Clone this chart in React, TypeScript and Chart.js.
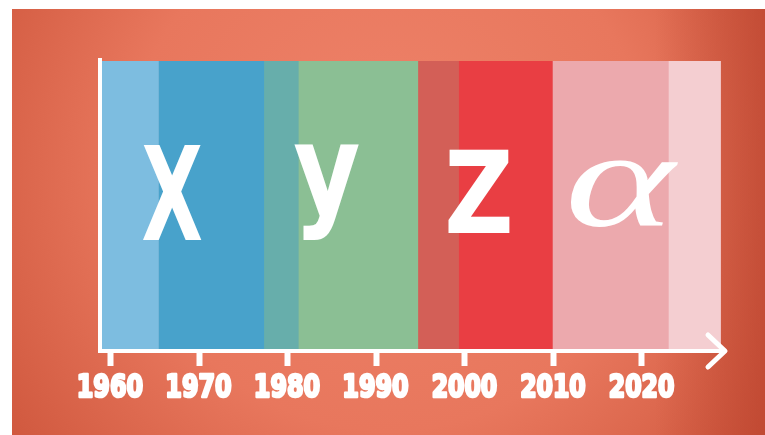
import React, { useEffect, useRef } from "react";
import { Chart, registerables } from "chart.js";

Chart.register(...registerables);

// ---- data ----
const bandNames = [
  "Boomer / X cusp",
  "Gen X",
  "Xennials",
  "Gen Y",
  "Zillennials",
  "Gen Z",
  "Gen Alpha",
  "Alpha / Beta cusp",
];
const bandStarts = [1958.8, 1965.4, 1977.3, 1981.2, 1994.7, 1999.3, 2009.9, 2023.0];
const bandEnds = [1965.4, 1977.3, 1981.2, 1994.7, 1999.3, 2009.9, 2023.0, 2028.9];
const bandColors = [
  "#7dbde0",
  "#48a2cb",
  "#67aeab",
  "#8bbf94",
  "#d35f57",
  "#e93e43",
  "#eca9ad",
  "#f4ced1",
];
const tickYears = [1960, 1970, 1980, 1990, 2000, 2010, 2020];
const letterTexts = ["X", "y", "Z", "α"];
const letterYears = [1967.0, 1984.4, 2001.6, 2018.0];
const axisMin = 1958.8;
const axisMax = 2029.4;

// ---- styles ----
const condensedBold = "bold 120px 'DejaVu Sans Condensed', 'DejaVu Sans', sans-serif";
const letterStyles = [
  { font: condensedBold, w: 59, h: 95, fy: 0.453 },
  { font: condensedBold, w: 65, h: 95, fy: 0.453 },
  { font: condensedBold, w: 62, h: 83, fy: 0.45 },
  { font: "italic 120px 'Liberation Serif', 'DejaVu Serif', serif", w: 108, h: 67, fy: 0.457 },
];
const tickLabelStyle = {
  font: "bold 34px 'DejaVu Sans Condensed', 'DejaVu Sans', sans-serif",
  width: 63,
  capHeight: 23,
  gap: 23, // distance from axis line to top of the digits
  thicken: 2.2,
};

const W = 753;
const H = 426;

const backgroundPlugin = {
  id: "bgPaint",
  beforeDraw(chart: any) {
    const { ctx, width, height } = chart;
    ctx.save();
    const g = ctx.createRadialGradient(width * 0.5, height * 0.35, 10, width * 0.5, height * 0.4, width * 0.62);
    g.addColorStop(0, "#ee8269");
    g.addColorStop(0.55, "#e8775d");
    g.addColorStop(1, "#cf573d");
    ctx.fillStyle = g;
    ctx.fillRect(0, 0, width, height);
    const g2 = ctx.createLinearGradient(width - 110, 0, width, 0);
    g2.addColorStop(0, "rgba(180,60,40,0)");
    g2.addColorStop(1, "rgba(180,60,40,0.55)");
    ctx.fillStyle = g2;
    ctx.fillRect(width - 110, 0, 110, height);
    ctx.restore();
  },
};

const decorPlugin = {
  id: "decor",
  afterDraw(chart: any) {
    const { ctx, chartArea } = chart;
    const x = chart.scales.x;
    ctx.save();
    // big letters
    letterTexts.forEach((t, i) => {
      const st = letterStyles[i];
      ctx.save();
      ctx.font = st.font;
      const m = ctx.measureText(t);
      const bw = m.actualBoundingBoxLeft + m.actualBoundingBoxRight;
      const bh = m.actualBoundingBoxAscent + m.actualBoundingBoxDescent;
      const cx = x.getPixelForValue(letterYears[i]);
      const cy = chartArea.top + chartArea.height * st.fy;
      ctx.translate(cx, cy);
      ctx.scale(st.w / bw, st.h / bh);
      ctx.fillStyle = "#ffffff";
      ctx.textAlign = "left";
      ctx.textBaseline = "alphabetic";
      ctx.fillText(
        t,
        -(m.actualBoundingBoxRight - m.actualBoundingBoxLeft) / 2,
        (m.actualBoundingBoxAscent - m.actualBoundingBoxDescent) / 2
      );
      ctx.restore();
    });
    // tick labels (condensed, heavy)
    tickYears.forEach((yr) => {
      const label = String(yr);
      ctx.save();
      ctx.font = tickLabelStyle.font;
      const m = ctx.measureText(label);
      const bw = m.actualBoundingBoxLeft + m.actualBoundingBoxRight;
      const bh = m.actualBoundingBoxAscent;
      const cx = x.getPixelForValue(yr);
      const top = chartArea.bottom + tickLabelStyle.gap;
      const sx = tickLabelStyle.width / bw;
      const sy = tickLabelStyle.capHeight / bh;
      ctx.translate(cx, top);
      ctx.scale(sx, sy);
      ctx.fillStyle = "#ffffff";
      ctx.strokeStyle = "#ffffff";
      ctx.lineJoin = "round";
      ctx.lineWidth = tickLabelStyle.thicken / sx;
      ctx.textAlign = "left";
      ctx.textBaseline = "alphabetic";
      const tx = -(m.actualBoundingBoxRight - m.actualBoundingBoxLeft) / 2;
      ctx.fillText(label, tx, m.actualBoundingBoxAscent);
      ctx.strokeText(label, tx, m.actualBoundingBoxAscent);
      ctx.restore();
    });
    // vertical axis line
    ctx.strokeStyle = "#ffffff";
    ctx.lineWidth = 4;
    ctx.lineCap = "butt";
    ctx.beginPath();
    ctx.moveTo(chartArea.left, chartArea.top - 3);
    ctx.lineTo(chartArea.left, chartArea.bottom + 2);
    ctx.stroke();
    // arrow head
    const tipX = chartArea.right;
    const tipY = chartArea.bottom;
    ctx.lineWidth = 5;
    ctx.lineCap = "round";
    ctx.lineJoin = "round";
    ctx.beginPath();
    ctx.moveTo(tipX - 17, tipY - 16);
    ctx.lineTo(tipX, tipY);
    ctx.lineTo(tipX - 17, tipY + 16);
    ctx.stroke();
    ctx.restore();
  },
};

export default function App() {
  const ref = useRef<HTMLCanvasElement | null>(null);

  useEffect(() => {
    if (!ref.current) return;
    const chart = new Chart(ref.current, {
      type: "bar",
      data: {
        labels: ["generations"],
        datasets: bandNames.map((name, i) => ({
          label: name,
          data: [[bandStarts[i], bandEnds[i]]] as any,
          backgroundColor: bandColors[i],
          borderWidth: 0,
          grouped: false,
          barPercentage: 1,
          categoryPercentage: 1,
        })),
      },
      options: {
        indexAxis: "y",
        animation: false,
        responsive: false,
        devicePixelRatio: 1,
        layout: { padding: { left: 88, right: 40, top: 52, bottom: 0 } },
        plugins: {
          legend: { display: false },
          tooltip: { enabled: false },
        },
        scales: {
          x: {
            type: "linear",
            position: "bottom",
            min: axisMin,
            max: axisMax,
            afterBuildTicks: (scale: any) => {
              scale.ticks = tickYears.map((v) => ({ value: v }));
            },
            afterFit: (scale: any) => {
              scale.height = 84;
            },
            grid: {
              drawOnChartArea: false,
              drawTicks: true,
              tickLength: 15,
              tickWidth: 6,
              tickColor: "#ffffff",
            },
            border: { display: true, color: "#ffffff", width: 4, z: 1 },
            ticks: {
              display: false,
              autoSkip: false,
              maxRotation: 0,
              callback: (v: any) => String(v),
            },
          },
          y: {
            type: "category",
            display: false,
          },
        },
      },
      plugins: [backgroundPlugin, decorPlugin],
    } as any);
    return () => chart.destroy();
  }, []);

  return (
    <div style={{ position: "fixed", left: 12, top: 9, width: W, height: H }}>
      <canvas ref={ref} width={W} height={H} style={{ display: "block", width: W, height: H }} />
    </div>
  );
}
